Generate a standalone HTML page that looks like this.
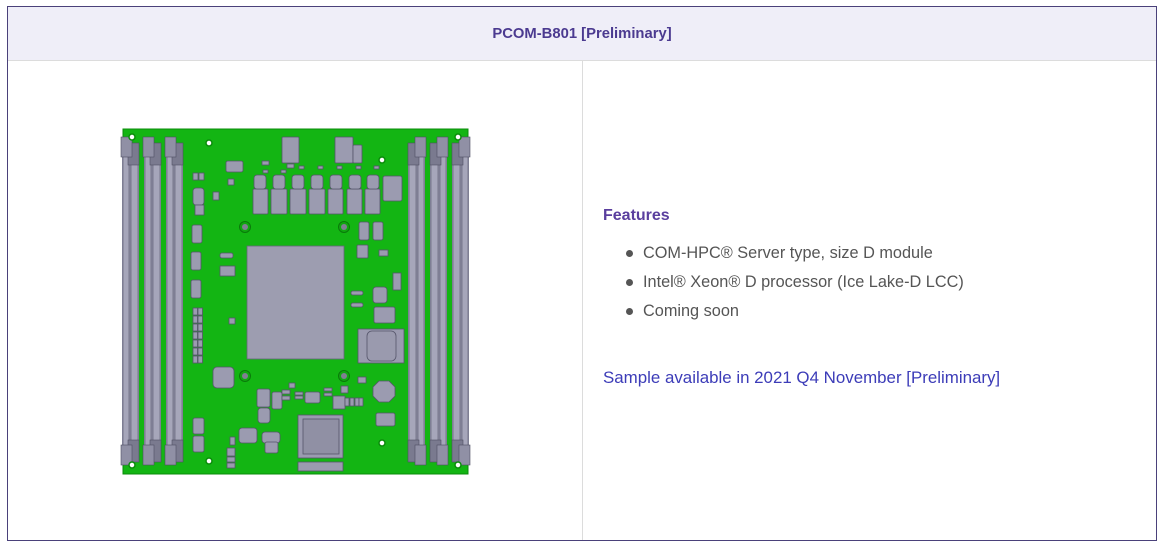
<!DOCTYPE html>
<html><head><meta charset="utf-8">
<style>
html,body{margin:0;padding:0;background:#fff;}
body{width:1164px;height:546px;position:relative;overflow:hidden;font-family:"Liberation Sans",sans-serif;}
.box{position:absolute;left:7px;top:6px;width:1150px;height:535px;box-sizing:border-box;border:1px solid #4a417a;}
.hdr{position:absolute;left:8px;top:7px;width:1148px;height:53px;background:#efeef8;border-bottom:1px solid #dcdcdc;}
.title{position:absolute;left:7px;width:1150px;top:24px;line-height:20px;text-align:center;font-weight:bold;font-size:14.8px;color:#4b3a90;}
.vdiv{position:absolute;left:582px;top:61px;width:1px;height:479px;background:#dcdcdc;}
.feat{position:absolute;left:603px;top:206px;line-height:20px;font-weight:bold;font-size:16px;color:#5a3e9e;}
.li{position:absolute;left:643px;line-height:20px;font-size:16.3px;color:#555;}
.dot{position:absolute;left:626px;width:7px;height:7px;border-radius:50%;background:#555;}
.link{position:absolute;left:603px;top:368px;line-height:20px;font-size:16.9px;color:#3c3cb8;}
svg{position:absolute;left:0;top:0;}
.c{fill:#9b9bb0;stroke:#55556a;stroke-width:.8;}
</style></head><body>
<div class="box"></div>
<div class="hdr"></div>
<div class="title">PCOM-B801 [Preliminary]</div>
<div class="vdiv"></div>
<div class="feat">Features</div>
<div class="dot" style="top:250px"></div><div class="li" style="top:243px">COM-HPC® Server type, size D module</div>
<div class="dot" style="top:279px"></div><div class="li" style="top:272px">Intel® Xeon® D processor (Ice Lake-D LCC)</div>
<div class="dot" style="top:308px"></div><div class="li" style="top:301px">Coming soon</div>
<div class="link">Sample available in 2021 Q4 November [Preliminary]</div>

<svg width="1164" height="546" viewBox="0 0 1164 546">
<rect x="123" y="129" width="345" height="345" fill="#13b513" stroke="#0b8c0b" stroke-width="1"/>
<g id="slots">
<g transform="translate(122,0)">
 <rect x="0" y="150" width="17" height="305" fill="#8f8fa4"/>
 <rect x="1" y="150" width="6" height="305" fill="#a6a6ba" stroke="#5a5a6e" stroke-width=".6"/>
 <rect x="9" y="150" width="7" height="305" fill="#a6a6ba" stroke="#5a5a6e" stroke-width=".6"/>
 <rect x="6" y="143" width="11" height="22" fill="#7a7a8f" stroke="#4f4f63" stroke-width=".6"/>
 <rect x="-1" y="137" width="11" height="20" fill="#9090a5" stroke="#4f4f63" stroke-width=".6"/>
 <rect x="6" y="440" width="11" height="22" fill="#7a7a8f" stroke="#4f4f63" stroke-width=".6"/>
 <rect x="-1" y="445" width="11" height="20" fill="#9090a5" stroke="#4f4f63" stroke-width=".6"/>
</g>
<g transform="translate(144,0)">
 <rect x="0" y="150" width="17" height="305" fill="#8f8fa4"/>
 <rect x="1" y="150" width="6" height="305" fill="#a6a6ba" stroke="#5a5a6e" stroke-width=".6"/>
 <rect x="9" y="150" width="7" height="305" fill="#a6a6ba" stroke="#5a5a6e" stroke-width=".6"/>
 <rect x="6" y="143" width="11" height="22" fill="#7a7a8f" stroke="#4f4f63" stroke-width=".6"/>
 <rect x="-1" y="137" width="11" height="20" fill="#9090a5" stroke="#4f4f63" stroke-width=".6"/>
 <rect x="6" y="440" width="11" height="22" fill="#7a7a8f" stroke="#4f4f63" stroke-width=".6"/>
 <rect x="-1" y="445" width="11" height="20" fill="#9090a5" stroke="#4f4f63" stroke-width=".6"/>
</g>
<g transform="translate(166,0)">
 <rect x="0" y="150" width="17" height="305" fill="#8f8fa4"/>
 <rect x="1" y="150" width="6" height="305" fill="#a6a6ba" stroke="#5a5a6e" stroke-width=".6"/>
 <rect x="9" y="150" width="7" height="305" fill="#a6a6ba" stroke="#5a5a6e" stroke-width=".6"/>
 <rect x="6" y="143" width="11" height="22" fill="#7a7a8f" stroke="#4f4f63" stroke-width=".6"/>
 <rect x="-1" y="137" width="11" height="20" fill="#9090a5" stroke="#4f4f63" stroke-width=".6"/>
 <rect x="6" y="440" width="11" height="22" fill="#7a7a8f" stroke="#4f4f63" stroke-width=".6"/>
 <rect x="-1" y="445" width="11" height="20" fill="#9090a5" stroke="#4f4f63" stroke-width=".6"/>
</g>
<g transform="translate(408,0)">
 <rect x="0" y="150" width="17" height="305" fill="#8f8fa4"/>
 <rect x="1" y="150" width="7" height="305" fill="#a6a6ba" stroke="#5a5a6e" stroke-width=".6"/>
 <rect x="10" y="150" width="6" height="305" fill="#a6a6ba" stroke="#5a5a6e" stroke-width=".6"/>
 <rect x="0" y="143" width="11" height="22" fill="#7a7a8f" stroke="#4f4f63" stroke-width=".6"/>
 <rect x="7" y="137" width="11" height="20" fill="#9090a5" stroke="#4f4f63" stroke-width=".6"/>
 <rect x="0" y="440" width="11" height="22" fill="#7a7a8f" stroke="#4f4f63" stroke-width=".6"/>
 <rect x="7" y="445" width="11" height="20" fill="#9090a5" stroke="#4f4f63" stroke-width=".6"/>
</g>
<g transform="translate(430,0)">
 <rect x="0" y="150" width="17" height="305" fill="#8f8fa4"/>
 <rect x="1" y="150" width="7" height="305" fill="#a6a6ba" stroke="#5a5a6e" stroke-width=".6"/>
 <rect x="10" y="150" width="6" height="305" fill="#a6a6ba" stroke="#5a5a6e" stroke-width=".6"/>
 <rect x="0" y="143" width="11" height="22" fill="#7a7a8f" stroke="#4f4f63" stroke-width=".6"/>
 <rect x="7" y="137" width="11" height="20" fill="#9090a5" stroke="#4f4f63" stroke-width=".6"/>
 <rect x="0" y="440" width="11" height="22" fill="#7a7a8f" stroke="#4f4f63" stroke-width=".6"/>
 <rect x="7" y="445" width="11" height="20" fill="#9090a5" stroke="#4f4f63" stroke-width=".6"/>
</g>
<g transform="translate(452,0)">
 <rect x="0" y="150" width="17" height="305" fill="#8f8fa4"/>
 <rect x="1" y="150" width="7" height="305" fill="#a6a6ba" stroke="#5a5a6e" stroke-width=".6"/>
 <rect x="10" y="150" width="6" height="305" fill="#a6a6ba" stroke="#5a5a6e" stroke-width=".6"/>
 <rect x="0" y="143" width="11" height="22" fill="#7a7a8f" stroke="#4f4f63" stroke-width=".6"/>
 <rect x="7" y="137" width="11" height="20" fill="#9090a5" stroke="#4f4f63" stroke-width=".6"/>
 <rect x="0" y="440" width="11" height="22" fill="#7a7a8f" stroke="#4f4f63" stroke-width=".6"/>
 <rect x="7" y="445" width="11" height="20" fill="#9090a5" stroke="#4f4f63" stroke-width=".6"/>
</g>
</g>
<g fill="#fff" stroke="#0b8c0b" stroke-width="1.5">
<circle cx="132" cy="137" r="3"/><circle cx="209" cy="143" r="3"/><circle cx="382" cy="160" r="3"/><circle cx="458" cy="137" r="3"/>
<circle cx="132" cy="465" r="3"/><circle cx="209" cy="461" r="3"/><circle cx="382" cy="443" r="3"/><circle cx="458" cy="465" r="3"/>
</g>
<g>
<circle cx="245" cy="227" r="5.5" fill="#10a810" stroke="#0a7a0a"/><circle cx="245" cy="227" r="3" fill="#7f7f92"/>
<circle cx="344" cy="227" r="5.5" fill="#10a810" stroke="#0a7a0a"/><circle cx="344" cy="227" r="3" fill="#7f7f92"/>
<circle cx="245" cy="376" r="5.5" fill="#10a810" stroke="#0a7a0a"/><circle cx="245" cy="376" r="3" fill="#7f7f92"/>
<circle cx="344" cy="376" r="5.5" fill="#10a810" stroke="#0a7a0a"/><circle cx="344" cy="376" r="3" fill="#7f7f92"/>
</g>
<rect x="247" y="246" width="97" height="113" fill="#9d9db0" stroke="#66667a" stroke-width=".8"/>
<rect x="298" y="415" width="45" height="43" class="c"/>
<rect x="303" y="419" width="36" height="35" fill="#9090a4" stroke="#55556a" stroke-width=".8"/>
<rect x="298" y="462" width="45" height="9" class="c"/>
<g>
<rect x="253" y="189" width="15" height="25" class="c" rx="1"/><rect x="271" y="189" width="16" height="25" class="c" rx="1"/>
<rect x="290" y="189" width="16" height="25" class="c" rx="1"/><rect x="309" y="189" width="16" height="25" class="c" rx="1"/>
<rect x="328" y="189" width="15" height="25" class="c" rx="1"/><rect x="347" y="189" width="15" height="25" class="c" rx="1"/>
<rect x="365" y="189" width="15" height="25" class="c" rx="1"/>
<rect x="254" y="175" width="12" height="14" class="c" rx="3"/><rect x="273" y="175" width="12" height="14" class="c" rx="3"/>
<rect x="292" y="175" width="12" height="14" class="c" rx="3"/><rect x="311" y="175" width="12" height="14" class="c" rx="3"/>
<rect x="330" y="175" width="12" height="14" class="c" rx="3"/><rect x="349" y="175" width="12" height="14" class="c" rx="3"/>
<rect x="367" y="175" width="12" height="14" class="c" rx="3"/>
<rect x="263" y="170" width="5" height="3" class="c"/><rect x="281" y="170" width="5" height="3" class="c"/>
<rect x="299" y="166" width="5" height="3" class="c"/><rect x="318" y="166" width="5" height="3" class="c"/>
<rect x="337" y="166" width="5" height="3" class="c"/><rect x="356" y="166" width="5" height="3" class="c"/>
<rect x="374" y="166" width="5" height="3" class="c"/><rect x="262" y="161" width="7" height="4" class="c"/>
<rect x="287" y="164" width="7" height="4" class="c"/>
</g>
<rect x="282" y="137" width="17" height="26" class="c" rx="1"/>
<rect x="335" y="137" width="18" height="26" class="c" rx="1"/>
<rect x="353" y="145" width="9" height="18" class="c" rx="1"/>
<rect x="383" y="176" width="19" height="25" class="c" rx="2"/>
<rect x="226" y="161" width="17" height="11" class="c" rx="2"/>
<rect x="193" y="173" width="5" height="7" class="c"/><rect x="199" y="173" width="5" height="7" class="c"/>
<rect x="228" y="179" width="6" height="6" class="c"/>
<rect x="193" y="188" width="11" height="17" class="c" rx="3"/>
<rect x="213" y="192" width="6" height="8" class="c"/>
<rect x="195" y="205" width="9" height="10" class="c"/>
<rect x="192" y="225" width="10" height="18" class="c" rx="2"/>
<rect x="359" y="222" width="10" height="18" class="c" rx="2"/>
<rect x="373" y="222" width="10" height="18" class="c" rx="2"/>
<rect x="191" y="252" width="10" height="18" class="c" rx="2"/>
<rect x="191" y="280" width="10" height="18" class="c" rx="2"/>
<g>
<rect x="193" y="308" width="4.5" height="7" class="c"/><rect x="198" y="308" width="4.5" height="7" class="c"/>
<rect x="193" y="316" width="4.5" height="7" class="c"/><rect x="198" y="316" width="4.5" height="7" class="c"/>
<rect x="193" y="324" width="4.5" height="7" class="c"/><rect x="198" y="324" width="4.5" height="7" class="c"/>
<rect x="193" y="332" width="4.5" height="7" class="c"/><rect x="198" y="332" width="4.5" height="7" class="c"/>
<rect x="193" y="340" width="4.5" height="7" class="c"/><rect x="198" y="340" width="4.5" height="7" class="c"/>
<rect x="193" y="348" width="4.5" height="7" class="c"/><rect x="198" y="348" width="4.5" height="7" class="c"/>
<rect x="193" y="356" width="4.5" height="7" class="c"/><rect x="198" y="356" width="4.5" height="7" class="c"/>
</g>
<rect x="220" y="253" width="13" height="5" class="c" rx="2"/>
<rect x="220" y="266" width="15" height="10" class="c"/>
<rect x="229" y="318" width="6" height="6" class="c"/>
<rect x="213" y="367" width="21" height="21" class="c" rx="4"/>
<rect x="357" y="245" width="11" height="13" class="c" rx="1"/>
<rect x="379" y="250" width="9" height="6" class="c"/>
<rect x="393" y="273" width="8" height="17" class="c"/>
<rect x="351" y="291" width="12" height="4" class="c" rx="2"/>
<rect x="373" y="287" width="14" height="16" class="c" rx="3"/>
<rect x="351" y="303" width="12" height="4" class="c" rx="2"/>
<rect x="374" y="307" width="21" height="16" class="c" rx="2"/>
<rect x="358" y="329" width="46" height="34" class="c"/>
<rect x="367" y="331" width="29" height="30" fill="#9a9aae" stroke="#55556a" stroke-width=".8" rx="5"/>
<rect x="358" y="377" width="8" height="6" class="c"/>
<polygon points="379,381 389,381 395,387 395,396 389,402 379,402 373,396 373,387" class="c"/>
<rect x="376" y="413" width="19" height="13" class="c" rx="2"/>
<rect x="257" y="389" width="13" height="18" class="c" rx="2"/>
<rect x="272" y="392" width="10" height="17" class="c" rx="2"/>
<rect x="258" y="408" width="12" height="15" class="c" rx="3"/>
<rect x="282" y="390" width="8" height="4" class="c"/><rect x="282" y="396" width="8" height="4" class="c"/>
<rect x="289" y="383" width="6" height="5" class="c"/>
<rect x="295" y="392" width="8" height="3" class="c"/><rect x="295" y="396" width="8" height="3" class="c"/>
<rect x="305" y="392" width="15" height="11" class="c" rx="2"/>
<rect x="324" y="388" width="8" height="3" class="c"/><rect x="324" y="393" width="8" height="3" class="c"/>
<rect x="333" y="396" width="12" height="13" class="c"/>
<rect x="341" y="386" width="7" height="7" class="c"/>
<rect x="345" y="398" width="4" height="8" class="c"/><rect x="350" y="398" width="4" height="8" class="c"/>
<rect x="355" y="398" width="4" height="8" class="c"/><rect x="359" y="398" width="4" height="8" class="c"/>
<rect x="193" y="418" width="11" height="16" class="c" rx="2"/>
<rect x="193" y="436" width="11" height="16" class="c" rx="2"/>
<rect x="239" y="428" width="18" height="15" class="c" rx="3"/>
<rect x="262" y="432" width="18" height="11" class="c" rx="3"/>
<rect x="265" y="442" width="13" height="11" class="c" rx="2"/>
<rect x="230" y="437" width="5" height="8" class="c"/>
<rect x="227" y="448" width="8" height="8" class="c"/><rect x="227" y="457" width="8" height="5" class="c"/><rect x="227" y="463" width="8" height="5" class="c"/>
</svg>
</body></html>
